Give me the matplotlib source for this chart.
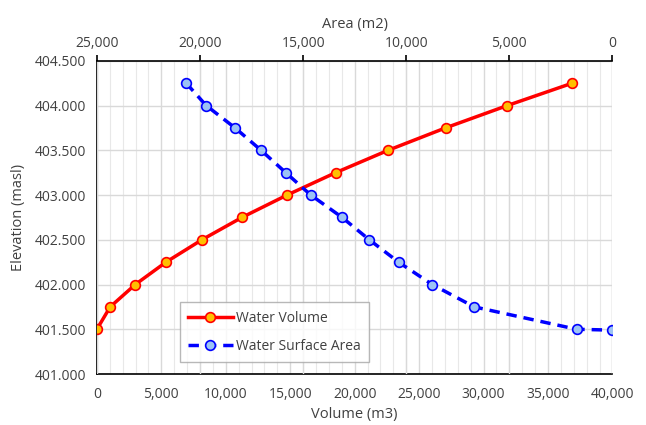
import matplotlib.pyplot as plt
from matplotlib.ticker import MultipleLocator, FuncFormatter

plt.rcParams['font.family'] = ['Open Sans', 'DejaVu Sans']

# Water volume curve (bottom axis)
vol_elev = [401.50, 401.75, 402.00, 402.25, 402.50, 402.75, 403.00,
            403.25, 403.50, 403.75, 404.00, 404.25]
volume = [0, 1030, 2980, 5360, 8150, 11260, 14760,
          18530, 22600, 27050, 31850, 36890]

# Water surface area curve (top axis, reversed)
area_elev = [404.25, 404.00, 403.75, 403.50, 403.25, 403.00, 402.75,
             402.50, 402.25, 402.00, 401.75, 401.50, 401.49]
area = [20670, 19700, 18300, 17040, 15840, 14630, 13110,
        11790, 10370, 8740, 6700, 1740, 0]

txt = '#404040'
thousands = FuncFormatter(lambda v, p: '{:,.0f}'.format(v))

fig, ax = plt.subplots(figsize=(6.46, 4.25), dpi=100)
fig.subplots_adjust(left=0.150, right=0.948, top=0.857, bottom=0.120)

ax.set_xlim(0, 40000)
ax.set_ylim(401.0, 404.5)
ax.xaxis.set_major_locator(MultipleLocator(5000))
ax.xaxis.set_minor_locator(MultipleLocator(1000))
ax.yaxis.set_major_locator(MultipleLocator(0.5))
ax.xaxis.set_major_formatter(thousands)
ax.yaxis.set_major_formatter(FuncFormatter(lambda v, p: '{:.3f}'.format(v)))
ax.grid(True, which='major', color='#d9d9d9', lw=1.0)
ax.grid(True, which='minor', axis='x', color='#e8e8e8', lw=0.8)
ax.set_axisbelow(True)
ax.tick_params(which='both', length=0, colors=txt, labelsize=10)
ax.tick_params(axis='x', pad=9)
ax.tick_params(axis='y', pad=8)
ax.spines['right'].set_visible(False)
ax.spines['top'].set_visible(False)
for s in ['left', 'bottom']:
    ax.spines[s].set_color('black')
    ax.spines[s].set_linewidth(1.2)
ax.set_xlabel('Volume (m3)', color=txt, fontsize=10.5, labelpad=4)
ax.set_ylabel('Elevation (masl)', color=txt, fontsize=10.5, labelpad=6)

ax2 = ax.twiny()
ax2.set_xlim(25000, 0)
ax2.xaxis.set_major_locator(MultipleLocator(5000))
ax2.xaxis.set_major_formatter(thousands)
ax2.grid(True, which='major', axis='x', color='#d9d9d9', lw=1.0)
ax2.set_axisbelow(True)
ax2.tick_params(axis='x', length=4, width=1.2, colors='black', labelcolor=txt,
                labelsize=10, pad=3, direction='out')
for s in ['right', 'left', 'bottom']:
    ax2.spines[s].set_visible(False)
ax2.spines['top'].set_color('black')
ax2.spines['top'].set_linewidth(1.2)
ax2.set_xlabel('Area (m2)', color=txt, fontsize=10.5, labelpad=6)

# volume line drawn on the top axes (in volume coordinates) so grid stays below it
l1, = ax2.plot(volume, vol_elev, transform=ax.transData, color='#ff0000',
               lw=2.5, marker='o', ms=7, mfc='#ffc000', mec='#ff0000',
               mew=1.2, label='Water Volume')
l2, = ax2.plot(area, area_elev, color='#0000ff', lw=2.5, ls=(0, (3, 2)),
               marker='o', ms=7, mfc='#9cc3f5', mec='#0000ff', mew=1.2,
               label='Water Surface Area')

leg = ax2.legend(handles=[l1, l2], loc='lower left',
                 bbox_to_anchor=(0.161, 0.038), borderaxespad=0,
                 frameon=True, fancybox=False, edgecolor='#a6a6a6',
                 fontsize=10, handlelength=3.2, handletextpad=0.25,
                 labelspacing=0.95, borderpad=0.6, labelcolor=txt)
leg.get_frame().set_linewidth(1.0)

fig.savefig('out.png', dpi=100)
